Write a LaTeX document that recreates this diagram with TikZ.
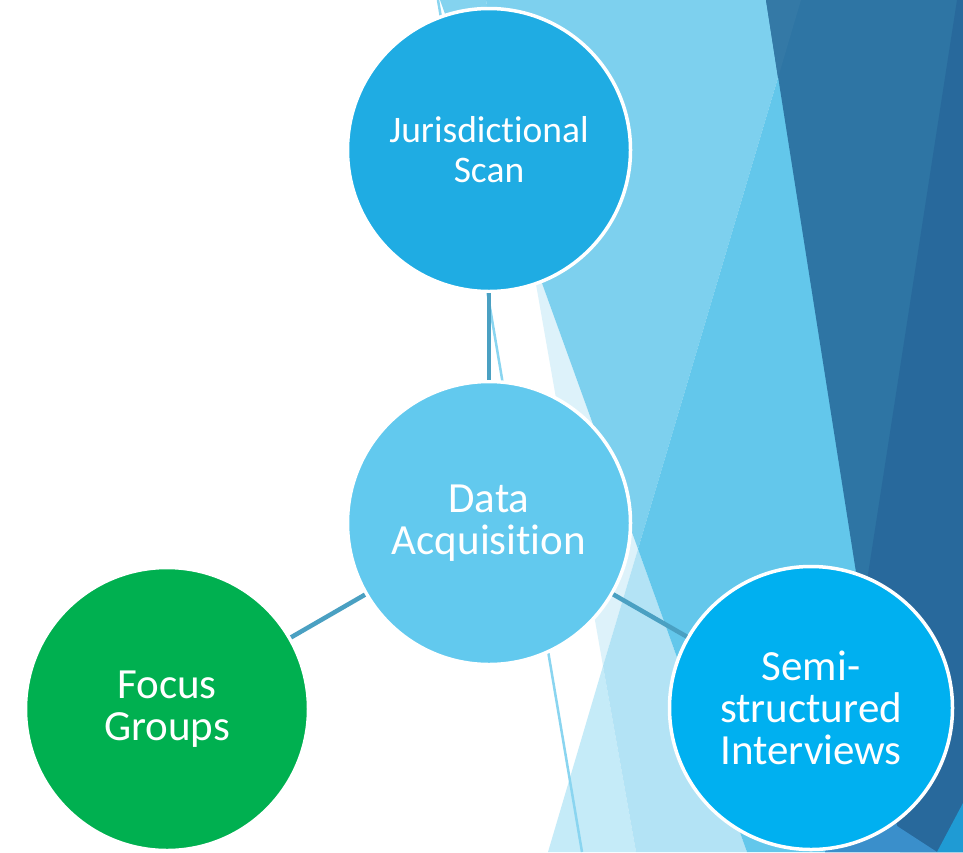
\documentclass[tikz,border=0pt]{standalone}
\usepackage{fontspec}
\setmainfont{Carlito}[Ligatures=NoCommon]
\definecolor{facetA}{HTML}{84D3EF}
\definecolor{facetB}{HTML}{DDF2FA}
\definecolor{facetC}{HTML}{C5EBF8}
\definecolor{facetBC}{HTML}{B3E3F5}
\definecolor{facetAB}{HTML}{7DD0EE}
\definecolor{facetABC}{HTML}{63C7EB}
\definecolor{deepblue}{HTML}{2E75A4}
\definecolor{deeperblue}{HTML}{28699C}
\definecolor{tipblue}{HTML}{3479A6}
\definecolor{lowblue}{HTML}{3A8FCB}
\definecolor{brightblue}{HTML}{1F9BD4}
\definecolor{scanblue}{HTML}{1FACE3}
\definecolor{datablue}{HTML}{62C9EE}
\definecolor{groupgreen}{HTML}{00B050}
\definecolor{interviewblue}{HTML}{00B0F0}
\definecolor{linkblue}{HTML}{4AA0C2}
\tikzset{bubble/.style = {circle, draw=white, line width = 3.5, minimum size = 283, inner sep = 0, text=white, align=center}}
\tikzset{link/.style = {draw=linkblue, line width = 4.5}}

\begin{document}
\begin{tikzpicture}[x=1pt, y=-1pt]
		\useasboundingbox (0,0) rectangle (963,852);
		\fill[white] (0,0) rectangle (963,852);

		% Facets
		\fill[facetA] (440,0) -- (486,0) -- (530,250) -- cycle;
		\fill[facetB] (530,250) -- (638,549) -- (603,666) -- cycle;
		\fill[facetC] (603,666) -- (548,852) -- (636,852) -- cycle;
		\fill[facetBC] (638,549) -- (603,666) -- (636,852) -- (747,852) -- cycle;
		\fill[facetAB] (486,0) -- (530,250) -- (638,549) -- (801,0) -- cycle;
		\fill[facetABC] (801,0) -- (638,549) -- (747,852) -- (963,852) -- (963,0) -- cycle;
		%
		\fill[deepblue] (766,0) -- (963,0) -- (963,852) -- (900,852) -- cycle;
		\fill[tipblue] (766,0) -- (801,0) -- (778,78) -- cycle;
		\fill[deeperblue] (957,0) -- (963,0) -- (963,852) -- (825,852) -- cycle;
		\fill[lowblue] (862,612) -- (825,852) -- (937,852) -- (897,826) -- cycle;
		\fill[brightblue] (937,852) -- (963,803) -- (963,852) -- cycle;
		%
		\draw[facetAB!90!white, line width = 2.5] (438,0) -- (582,852);

		% Circles
		\node[bubble, fill=scanblue, font=\fontsize{37.5}{40}\selectfont] (scan) at (489,150) {Jurisdictional\\Scan};
		\node[bubble, fill=datablue, font=\fontsize{43}{42}\selectfont] (data) at (489,523) {Data\\Acquisition};
		\node[bubble, fill=groupgreen, font=\fontsize{43}{42}\selectfont] (focus) at (167,709) {Focus\\Groups};
		\node[bubble, fill=interviewblue, font=\fontsize{43}{42}\selectfont] (semi) at (811,708) {Semi-\\structured\\Interviews};

		% Links
		\draw[link] (data) -- (scan);
		\draw[link] (data) -- (focus);
		\draw[link] (data) -- (semi);
	\end{tikzpicture}
\end{document}
